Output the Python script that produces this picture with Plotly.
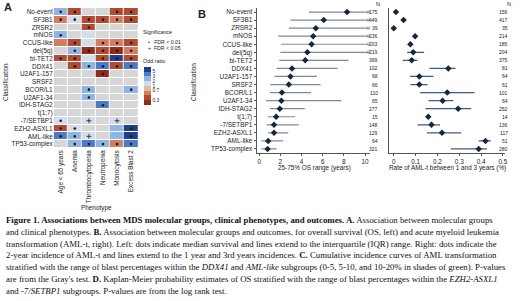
import numpy as np
import plotly.graph_objects as go

W, H = 520, 301

groups = ["No-event", "SF3B1", "ZRSR2", "mNOS", "CCUS-like", "del(5q)", "bi-TET2", "DDX41",
          "U2AF1-157", "SRSF2", "BCOR/L1", "U2AF1-34", "IDH-STAG2", "t(1;7)", "-7/SETBP1",
          "EZH2-ASXL1", "AML-like", "TP53-complex"]
phenotypes = ["Age < 65 years", "Anemia", "Thrombocytopenia", "Neutropenia", "Monocytosis", "Excess Blast 2"]

nan = np.nan
odds_ratio = [
    [2.5, 0.4, nan, nan, 0.4, 0.4],
    [0.6, 1.3, 0.4, 0.4, 0.6, 0.4],
    [nan, nan, 0.4, nan, nan, nan],
    [2.5, nan, 1.3, nan, nan, nan],
    [0.6, 0.4, 1.3, 0.6, 0.6, 0.4],
    [nan, 2.5, 0.25, 0.4, 0.25, 0.6],
    [0.4, 0.4, 1.3, 0.4, 6.0, 0.4],
    [nan, 0.4, 2.5, 4.0, 0.4, 4.0],
    [nan, nan, nan, 0.25, nan, nan],
    [nan, nan, nan, nan, nan, nan],
    [nan, nan, 2.5, nan, nan, 2.5],
    [nan, nan, 2.5, nan, nan, nan],
    [nan, nan, nan, 4.0, nan, nan],
    [nan, nan, nan, nan, nan, nan],
    [1.3, nan, 1.3, nan, 1.3, nan],
    [0.4, 1.3, nan, nan, 2.5, 6.0],
    [4.0, 2.5, 1.3, nan, 2.5, 6.0],
    [nan, 2.5, 4.0, 2.5, 0.6, 4.0],
]
# "a": FDR < 0.01, "b": FDR < 0.05
significance = [
    ["a", "a", "", "", "a", "a"],
    ["a", "a", "a", "a", "a", "a"],
    ["", "", "a", "", "", ""],
    ["a", "", "", "", "", ""],
    ["", "a", "", "a", "a", "a"],
    ["", "a", "a", "a", "a", "a"],
    ["a", "a", "", "a", "a", "a"],
    ["", "a", "a", "a", "a", "a"],
    ["", "", "", "a", "", ""],
    ["", "", "", "", "", ""],
    ["", "", "a", "", "", "a"],
    ["", "", "a", "", "", ""],
    ["", "", "", "a", "", ""],
    ["", "", "", "", "", ""],
    ["a", "", "b", "", "b", ""],
    ["a", "a", "", "", "", "a"],
    ["a", "a", "b", "", "", "a"],
    ["", "a", "a", "a", "a", "a"],
]
or_breaks = [0.2, 0.3, 0.5, 0.7, 1, 2, 3, 5, 8]
or_tick_values = [0.3, 0.7, 1, 2, 3, 5]
or_tick_labels = ["0.3", "0.7", "1", "2", "3", "5"]
or_colors = ["#8f2d1c", "#b14b33", "#d07d62", "#e8b7a5", "#d3ddec", "#8fb5e4", "#4a7bcb", "#1e3f8c"]

os_median = [8.3, 6.1, 5.35, 5.1, 4.95, 4.55, 4.35, 3.1, 2.95, 2.8, 2.15, 2.1, 1.95, 1.6, 1.4, 1.4, 0.85, 0.8]
os_q25 = [4.7, 2.95, 2.8, 1.8, 2.05, 2.0, 1.9, 1.65, 1.45, 1.05, 1.0, 0.65, 1.0, 0.8, 0.7, 0.85, 0.2, 0.2]
os_q75 = [11.5, 11.5, 11.5, 11.5, 11.5, 11.5, 8.45, 7.4, 5.45, 5.8, 4.9, 7.75, 4.3, 3.4, 3.75, 2.75, 2.25, 1.65]
aml_rate = [0.01, 0.045, 0.0, 0.098, 0.076, 0.089, 0.082, 0.25, 0.117, 0.117, 0.245, 0.224, 0.295, 0.158, 0.173, 0.221, 0.42, 0.389]
aml_low = [0.01, 0.045, 0.0, 0.098, 0.076, 0.061, 0.041, 0.164, 0.074, 0.076, 0.121, 0.159, 0.145, 0.148, 0.109, 0.152, 0.389, 0.261]
aml_high = [0.01, 0.045, 0.0, 0.098, 0.076, 0.139, 0.109, 0.283, 0.182, 0.155, 0.37, 0.273, 0.355, 0.167, 0.212, 0.309, 0.445, 0.427]
n_os = [175, 449, 39, 236, 203, 219, 399, 102, 68, 66, 110, 65, 277, 15, 148, 129, 64, 321]
n_aml = [156, 417, 35, 214, 185, 204, 375, 81, 64, 61, 101, 64, 252, 14, 136, 117, 51, 280]

caption_lines = [
    "<b>Figure 1. Associations between MDS molecular groups, clinical phenotypes, and outcomes. A.</b> Association between molecular groups",
    "and clinical phenotypes. <b>B.</b> Association between molecular groups and outcomes, for overall survival (OS, left) and acute myeloid leukemia",
    "transformation (AML-t, right). Left: dots indicate median survival and lines extend to the interquartile (IQR) range. Right: dots indicate the",
    "2-year incidence of AML-t and lines extend to the 1 year and 3rd years incidences. <b>C.</b> Cumulative incidence curves of AML transformation",
    "stratified with the range of blast percentages within the <i>DDX41</i> and <i>AML-like</i> subgroups (0-5, 5-10, and 10-20% in shades of green). P-values",
    "are from the Gray's test. <b>D.</b> Kaplan-Meier probability estimates of OS stratified with the range of blast percentages within the <i>EZH2-ASXL1</i>",
    "and <i>-7/SETBP1</i> subgroups. P-values are from the log rank test.",
]

SANS = "Liberation Sans, Arial, sans-serif"
SERIF = "Liberation Serif, Times New Roman, serif"
TXT = "#222222"


def px(x):
    return x / W


def py(y):
    return 1 - y / H


nb = len(or_colors)
pos_idx = list(range(len(or_breaks)))
or_arr = np.array(odds_ratio, dtype=float)
zpos = np.where(np.isnan(or_arr), np.nan, np.interp(or_arr, or_breaks, pos_idx))
colorscale = []
for i, c in enumerate(or_colors):
    colorscale.append([i / nb, c])
    colorscale.append([(i + 1) / nb, c])
tick_pos = list(np.interp(or_tick_values, or_breaks, pos_idx))

fig = go.Figure()

fig.add_trace(go.Heatmap(
    x=phenotypes, y=groups, z=np.ones((len(groups), len(phenotypes))),
    colorscale=[[0, "#d6d6d6"], [1, "#d6d6d6"]], showscale=False, xgap=1, ygap=1,
    hoverinfo="skip", xaxis="x", yaxis="y"))
fig.add_trace(go.Heatmap(
    x=phenotypes, y=groups, z=zpos, zmin=0, zmax=nb, colorscale=colorscale,
    xgap=1, ygap=1, xaxis="x", yaxis="y", hoverinfo="skip",
    colorbar=dict(lenmode="pixels", len=38, thickness=7, x=px(145), xanchor="left",
                  y=py(67), yanchor="top", ypad=0, xpad=0, outlinewidth=0,
                  tickvals=tick_pos, ticktext=or_tick_labels, ticks="",
                  tickfont=dict(family=SANS, size=4.8, color=TXT))))

for code, sym, size, lw in [("a", "circle", 2.6, 0), ("b", "cross-thin", 3.5, 0.8)]:
    xs, ys = [], []
    for i, g in enumerate(groups):
        for j, p in enumerate(phenotypes):
            if significance[i][j] == code:
                xs.append(p)
                ys.append(g)
    fig.add_trace(go.Scatter(x=xs, y=ys, mode="markers", xaxis="x", yaxis="y",
                             marker=dict(symbol=sym, size=size, color="#2a160f",
                                         line=dict(width=lw, color="#2a160f")),
                             hoverinfo="skip", showlegend=False))

lx, ly = [], []
for g, a, b in zip(groups, os_q25, os_q75):
    lx += [a, b, None]
    ly += [g, g, None]
fig.add_trace(go.Scatter(x=lx, y=ly, mode="lines", line=dict(color="#7f8a99", width=1.2),
                         xaxis="x2", yaxis="y2", hoverinfo="skip", showlegend=False))
fig.add_trace(go.Scatter(x=os_median, y=groups, mode="markers", xaxis="x2", yaxis="y2",
                         marker=dict(symbol="diamond", size=5, color="#17263f"),
                         hoverinfo="skip", showlegend=False))
os_xmax = 10.45
trunc = [g for g, b in zip(groups, os_q75) if b > os_xmax]
fig.add_trace(go.Scatter(x=[os_xmax] * len(trunc), y=trunc, mode="text", text=["//"] * len(trunc),
                         textposition="middle left",
                         textfont=dict(family=SANS, size=6, color="#5b8fc8"), cliponaxis=False,
                         xaxis="x2", yaxis="y2", hoverinfo="skip", showlegend=False))

ax, ay = [], []
for g, a, b in zip(groups, aml_low, aml_high):
    ax += [a, b, None]
    ay += [g, g, None]
fig.add_trace(go.Scatter(x=ax, y=ay, mode="lines", line=dict(color="#3d5a80", width=1.2),
                         xaxis="x3", yaxis="y3", hoverinfo="skip", showlegend=False))
fig.add_trace(go.Scatter(x=aml_rate, y=groups, mode="markers", xaxis="x3", yaxis="y3",
                         marker=dict(symbol="diamond", size=5, color="#17263f"),
                         hoverinfo="skip", showlegend=False))

tf = dict(family=SANS, size=6.4, color=TXT)
cat_range = [len(groups) - 0.5, -0.5]
fig.update_layout(
    width=W, height=H, margin=dict(l=0, r=0, t=0, b=0),
    paper_bgcolor="white", plot_bgcolor="white", showlegend=False,
    xaxis=dict(domain=[px(54), px(139)], anchor="y", type="category", categoryarray=phenotypes,
               tickmode="array", tickvals=phenotypes,
               range=[-0.5, len(phenotypes) - 0.5], tickangle=-90, tickfont=tf, ticks="",
               showline=False, showgrid=False, zeroline=False),
    yaxis=dict(domain=[py(148), py(8)], anchor="x", type="category", categoryarray=groups,
               tickmode="array", tickvals=groups,
               range=cat_range, tickfont=tf, ticks="", showgrid=False, zeroline=False),
    xaxis2=dict(domain=[px(258), px(372)], anchor="y2", range=[-0.25, os_xmax],
                tickvals=[0, 2, 4, 6, 8, 10], tickfont=tf, ticks="outside", ticklen=2,
                tickcolor="#555", showline=True, linecolor="#555", linewidth=1,
                showgrid=False, zeroline=False),
    yaxis2=dict(domain=[py(153), py(8)], anchor="x2", type="category", categoryarray=groups,
                tickmode="array", tickvals=groups,
                range=cat_range, tickfont=tf, ticks="outside", ticklen=2, tickcolor="#555",
                showline=True, linecolor="#555", linewidth=1, showgrid=False, zeroline=False),
    xaxis3=dict(domain=[px(391), px(508)], anchor="y3", range=[-0.023, 0.51],
                tickvals=[0, 0.1, 0.2, 0.3, 0.4, 0.5], ticktext=["0", "0.1", "0.2", "0.3", "0.4", "0.5"],
                tickfont=tf, ticks="outside", ticklen=2, tickcolor="#555",
                showline=True, linecolor="#555", linewidth=1, showgrid=False, zeroline=False),
    yaxis3=dict(domain=[py(153), py(8)], anchor="x3", type="category", categoryarray=groups,
                range=cat_range, showticklabels=False, ticks="", showline=True,
                linecolor="#555", linewidth=1, showgrid=False, zeroline=False),
)

ann = []


def txt(x, y, s, size=6.4, xanchor="center", yanchor="middle", angle=0, font=SANS, color=TXT):
    ann.append(dict(x=px(x), y=py(y), xref="paper", yref="paper", text=s, showarrow=False,
                    xanchor=xanchor, yanchor=yanchor, textangle=angle,
                    font=dict(family=font, size=size, color=color)))


txt(2, 7, "<b>A</b>", size=11, xanchor="left")
txt(197, 14, "<b>B</b>", size=11, xanchor="left")
txt(5, 82, "Classification", angle=-90)
txt(194, 82, "Classification", angle=-90)
txt(97, 208, "Phenotype")
txt(316, 168, "25-75% OS range (years)")
txt(450, 168, "Rate of AML-t between 1 and 3 years (%)")
txt(142, 32, "Significance", size=5.4, xanchor="left")
txt(147, 42, "•   FDR &lt; 0.01", size=5.2, xanchor="left")
txt(147, 48, "+  FDR &lt; 0.05", size=5.2, xanchor="left")
txt(142, 61, "Odd ratio", size=5.4, xanchor="left")
txt(381, 4, "N.", size=5.4)
txt(512, 4, "N.", size=5.4)
for g, a, b in zip(groups, n_os, n_aml):
    ann.append(dict(x=px(381), y=g, xref="paper", yref="y2", text=str(a), showarrow=False,
                    borderpad=0, font=dict(family=SANS, size=5, color=TXT)))
    ann.append(dict(x=px(512), y=g, xref="paper", yref="y2", text=str(b), showarrow=False,
                    borderpad=0, font=dict(family=SANS, size=5, color=TXT)))

for k, line in enumerate(caption_lines):
    txt(4, 220 + k * 11.8, line, size=8.8, xanchor="left", font=SERIF, color="#111111")

fig.update_layout(annotations=ann)
fig.write_html("out.html", config={"displayModeBar": False},
               post_script="document.body.style.margin='0';document.body.style.overflow='hidden';")
